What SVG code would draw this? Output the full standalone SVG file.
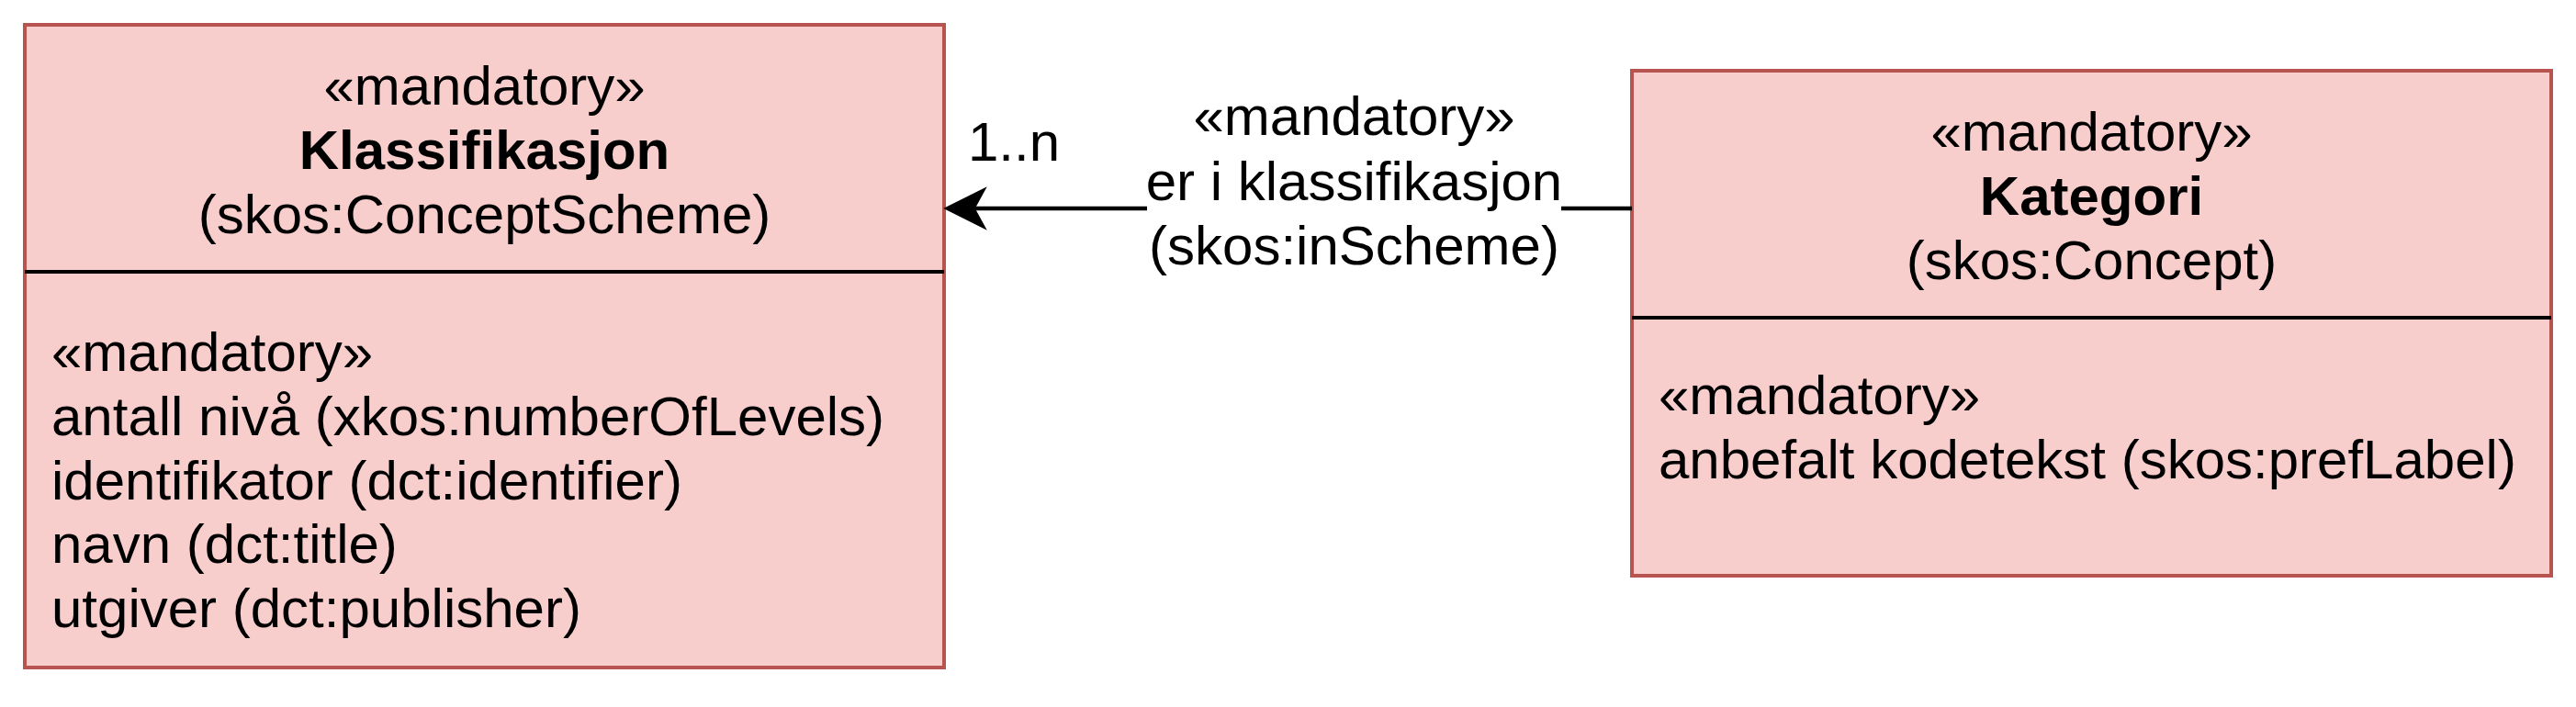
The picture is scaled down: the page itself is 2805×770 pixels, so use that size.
<svg xmlns="http://www.w3.org/2000/svg" width="2805" height="770" viewBox="0 0 2805 770">
<style>
.box{fill:#f8cecc;stroke:#b85450;stroke-width:4}
.div{stroke:#000;stroke-width:4}
text{font-family:"Liberation Sans",Arial,sans-serif;font-size:60px;fill:#000}
.c{text-anchor:middle}
.b{font-weight:bold}
.edge{stroke:#000;stroke-width:4.5;fill:none}
</style>
<rect x="0" y="0" width="2805" height="770" fill="#fff"/>
<g id="klassifikasjon">
<rect class="box" x="27" y="27" width="1001" height="700"/>
<line class="div" x1="27" y1="296" x2="1028" y2="296"/>
<text class="c" x="527.5" y="114">«mandatory»</text>
<text class="c b" x="527.5" y="184">Klassifikasjon</text>
<text class="c" x="527.5" y="253.5">(skos:ConceptScheme)</text>
<text x="56" y="404">«mandatory»</text>
<text x="56" y="474">antall nivå (xkos:numberOfLevels)</text>
<text x="56" y="543.5">identifikator (dct:identifier)</text>
<text x="56" y="613">navn (dct:title)</text>
<text x="56" y="683">utgiver (dct:publisher)</text>
</g>
<g id="kategori">
<rect class="box" x="1777" y="77" width="1001" height="550"/>
<line class="div" x1="1777" y1="346" x2="2778" y2="346"/>
<text class="c" x="2277.5" y="164">«mandatory»</text>
<text class="c b" x="2277.5" y="234">Kategori</text>
<text class="c" x="2277.5" y="303.5">(skos:Concept)</text>
<text x="1806" y="451">«mandatory»</text>
<text x="1806" y="521">anbefalt kodetekst (skos:prefLabel)</text>
</g>
<g id="connectors">
<line class="edge" x1="1062" y1="227" x2="1777" y2="227"/>
<path d="M1029,227 L1073,205 L1061,227 L1073,249 Z" fill="#000" stroke="#000" stroke-width="1.5" stroke-linejoin="miter"/>
<rect x="1249" y="95" width="451" height="212" fill="#fff"/>
<text class="c" x="1474.5" y="147">«mandatory»</text>
<text class="c" x="1474.5" y="218">er i klassifikasjon</text>
<text class="c" x="1474.5" y="288">(skos:inScheme)</text>
<text x="1054" y="175">1..n</text>
</g>
</svg>
